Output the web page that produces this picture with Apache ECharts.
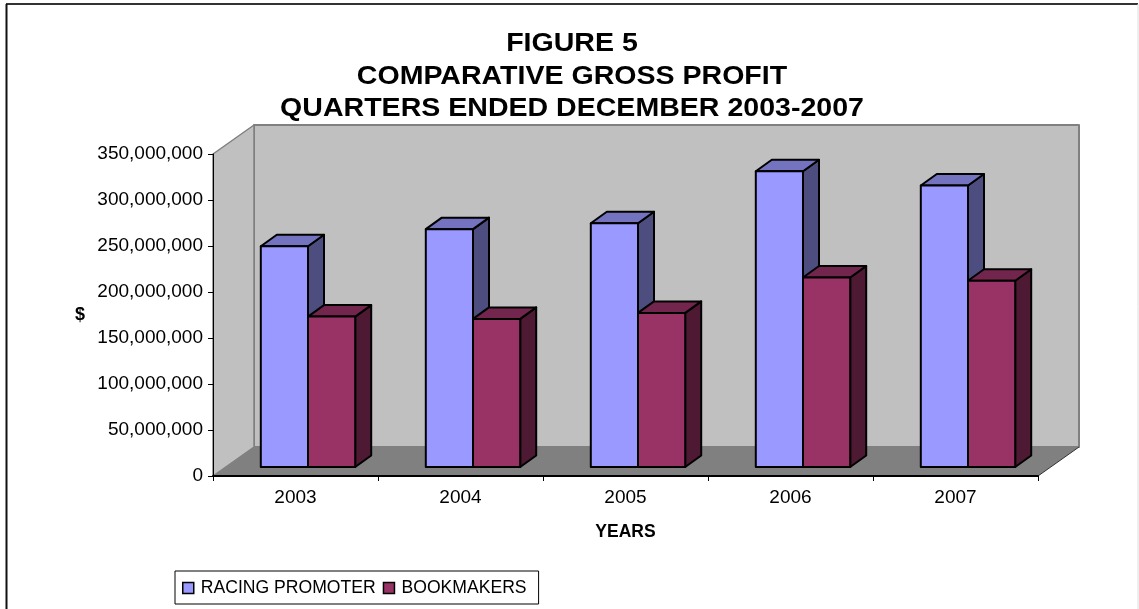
<!DOCTYPE html>
<html>
<head>
<meta charset="utf-8" />
<script src="https://cdn.jsdelivr.net/npm/echarts@6/dist/echarts.min.js"></script>
<style>
  html, body { margin: 0; padding: 0; background: #fff; }
  #echart { width: 1139px; height: 609px; }
</style>
</head>
<body>
<div id="echart"></div>
<script>
// values
const years = ["2003", "2004", "2005", "2006", "2007"];
const racingPromoter = [240000000, 258500000, 265000000, 321500000, 306000000];
const bookmakers = [163500000, 161000000, 167500000, 206000000, 202500000];
const yMax = 350000000;
const yStep = 50000000;
const titleText = "FIGURE 5\nCOMPARATIVE GROSS PROFIT\nQUARTERS ENDED DECEMBER 2003-2007";

const fontName = '"Liberation Sans", Arial, sans-serif';

// fake 3d: how far the wall and the bars sit behind the axis plane
const wallDx = 41, wallDy = -29;
const barDx = 12.5, barDy = -9;
const depthDx = 16, depthDy = -11.5;
const barShare = 47.2 / 165;

function poly(points, fill, stroke, width) {
  return {
    type: "polygon",
    shape: { points: points },
    style: { fill: fill, stroke: stroke || null, lineWidth: width || 0, lineJoin: "round" },
  };
}

function renderWalls(params, api) {
  const band = api.size([1, 0])[0];
  const x0 = api.coord([0, 0])[0] - band / 2;
  const x1 = x0 + band * years.length;
  const yb = api.coord([0, 0])[1];
  const yt = api.coord([0, yMax])[1];
  const d = [wallDx, wallDy];
  return {
    type: "group",
    children: [
      poly([[x0 + d[0], yt + d[1]], [x1 + d[0], yt + d[1]], [x1 + d[0], yb + d[1]], [x0 + d[0], yb + d[1]]], "#c0c0c0", "#808080", 2),
      poly([[x0, yb], [x0 + d[0], yb + d[1]], [x0 + d[0], yt + d[1]], [x0, yt]], "#c0c0c0", "#808080", 1.5),
      poly([[x0, yb], [x1, yb], [x1 + d[0], yb + d[1]], [x0 + d[0], yb + d[1]]], "#808080"),
      { type: "line", shape: { x1: x1, y1: yb, x2: x1 + d[0], y2: yb + d[1] }, style: { stroke: "#333", lineWidth: 1 } },
    ],
  };
}

function barRenderer(slot, front, top, side) {
  return function (params, api) {
    const band = api.size([1, 0])[0];
    const w = band * barShare;
    const cx = api.coord([api.value(0), 0])[0];
    const l = cx - w + slot * w + barDx;
    const r = l + w;
    const yb = api.coord([api.value(0), 0])[1] + barDy;
    const yt = api.coord([api.value(0), api.value(1)])[1] + barDy;
    return {
      type: "group",
      children: [
        poly([[r, yt], [r + depthDx, yt + depthDy], [r + depthDx, yb + depthDy], [r, yb]], side, "#000", 2),
        poly([[l, yt], [r, yt], [r + depthDx, yt + depthDy], [l + depthDx, yt + depthDy]], top, "#000", 2),
        poly([[l, yt], [r, yt], [r, yb], [l, yb]], front, "#000", 2),
      ],
    };
  };
}

const chart = echarts.init(document.getElementById("echart"));
chart.setOption({
  animation: false,
  backgroundColor: "#fff",
  grid: { left: 213, right: 101, top: 154, bottom: 133 },
  legend: {
    left: 175,
    top: 571,
    data: ["RACING PROMOTER", "BOOKMAKERS"],
    icon: "rect",
    itemWidth: 11,
    itemHeight: 11,
    itemGap: 7,
    padding: [8, 12, 7, 7],
    borderColor: "#000",
    borderWidth: 1,
    borderRadius: 0,
    backgroundColor: "#fff",
    itemStyle: { borderColor: "#000", borderWidth: 1.5 },
    textStyle: { fontFamily: fontName, fontSize: 17.6, color: "#000", padding: [0, 0, 2, 2] },
  },
  xAxis: {
    type: "category",
    data: years,
    z: 5,
    name: "YEARS",
    nameLocation: "middle",
    nameGap: 47,
    nameTextStyle: { fontFamily: fontName, fontSize: 17.5, fontWeight: "bold", color: "#000" },
    axisLine: { lineStyle: { color: "#000", width: 2 } },
    axisTick: { show: true, length: 5, lineStyle: { color: "#000" } },
    axisLabel: { fontFamily: fontName, fontSize: 19, color: "#000", margin: 12 },
  },
  yAxis: {
    type: "value",
    min: 0,
    max: yMax,
    interval: yStep,
    z: 5,
    name: "$",
    nameLocation: "middle",
    nameRotate: 0,
    nameGap: 128,
    nameTextStyle: { fontFamily: fontName, fontSize: 18, fontWeight: "bold", color: "#000" },
    axisLine: { show: true, lineStyle: { color: "#000", width: 1 } },
    axisTick: { show: true, length: 5, lineStyle: { color: "#000" } },
    axisLabel: {
      fontFamily: fontName,
      fontSize: 19,
      color: "#000",
      margin: 10,
      formatter: (v) => v.toLocaleString("en-US"),
    },
    splitLine: { show: false },
  },
  series: [
    { name: "walls", type: "custom", silent: true, z: 1, data: [[0, 0]], encode: { x: 0, y: 1 }, renderItem: renderWalls },
    {
      name: "RACING PROMOTER",
      type: "custom",
      z: 2,
      itemStyle: { color: "#9999ff" },
      encode: { x: 0, y: 1 },
      data: racingPromoter.map((v, i) => [i, v]),
      renderItem: barRenderer(0, "#9999ff", "#7373bf", "#4d4d80"),
    },
    {
      name: "BOOKMAKERS",
      type: "custom",
      z: 3,
      itemStyle: { color: "#993366" },
      encode: { x: 0, y: 1 },
      data: bookmakers.map((v, i) => [i, v]),
      renderItem: barRenderer(1, "#993366", "#73264d", "#4d1933"),
    },
  ],
  graphic: [
    // title is a bit wider than the font, so it gets stretched
    {
      type: "text",
      silent: true,
      x: 572,
      y: 28,
      scaleX: 1.098,
      style: {
        text: titleText,
        fill: "#000",
        font: 'bold 26px "Liberation Sans", Arial, sans-serif',
        lineHeight: 32.5,
        align: "center",
        verticalAlign: "top",
      },
    },
    // outer frame, the bottom edge is cut off in the picture
    { type: "line", silent: true, shape: { x1: 6, y1: 4, x2: 1138, y2: 4 }, style: { stroke: "#333", lineWidth: 2 } },
    { type: "line", silent: true, shape: { x1: 6.5, y1: 4, x2: 6.5, y2: 609 }, style: { stroke: "#111", lineWidth: 2 } },
    { type: "line", silent: true, shape: { x1: 1138, y1: 4, x2: 1138, y2: 609 }, style: { stroke: "#ddd", lineWidth: 1 } },
  ],
});
</script>
</body>
</html>
